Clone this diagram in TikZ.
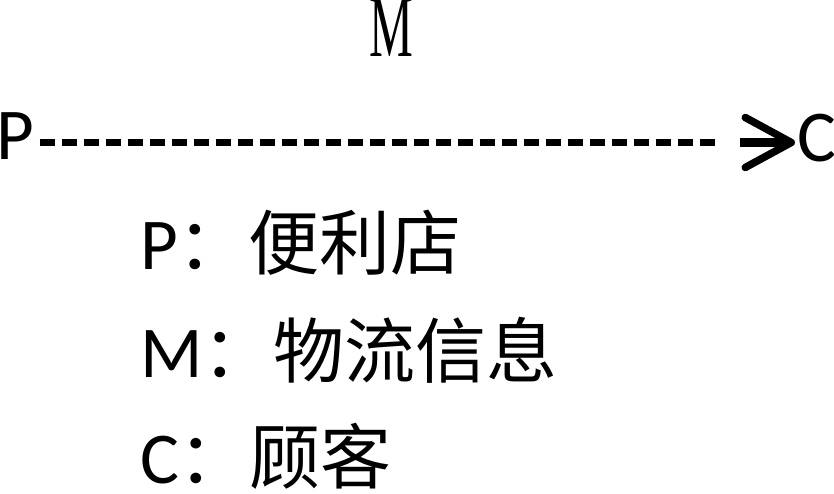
\documentclass[tikz,border=0pt]{standalone}
\usepackage{fontspec}
\usetikzlibrary{arrows.meta}
\newfontfamily\latf{Carlito}
\newfontfamily\cjkf{Noto Sans CJK SC}
\newfontfamily\serf{Liberation Serif}
\begin{document}
\begin{tikzpicture}[x=1pt,y=1pt,
  lbl/.style={inner sep=0pt, outer sep=0pt, anchor=base west, font=\fontsize{73}{73}\selectfont\latf},
  dashline/.style={line width=6.5pt, dash pattern=on 15pt off 7pt},
  stem/.style={line width=9pt, -{Straight Barb[length=46pt,width=50pt,line width=7.5pt,round]}}]
\useasboundingbox (0,0) rectangle (834,494);
\node[lbl] (P) at (-4,334) {P};
\node[lbl] (C) at (797,332) {C};
\node[inner sep=0pt, anchor=base, font=\fontsize{88}{88}\selectfont\serf] (M) at (391,437) {\scalebox{0.56}[1]{M}};
\coordinate (d1) at (720,351.5);
\coordinate (s1) at (740,351.5);
\draw[dashline] ([xshift=6pt]P.east |- d1) -- (d1);
\draw[stem] (s1) -- ([xshift=-2pt]C.west |- s1);
\node[lbl] (L1) at (140,224) {P{\cjkf\fontsize{71}{71}\selectfont ：便利店}};
\node[lbl] (L2) at (140,116) {M{\cjkf\fontsize{71}{71}\selectfont ：物流信息}};
\node[lbl] (L3) at (140,10) {C{\cjkf\fontsize{71}{71}\selectfont ：顾客}};
\end{tikzpicture}
\end{document}
